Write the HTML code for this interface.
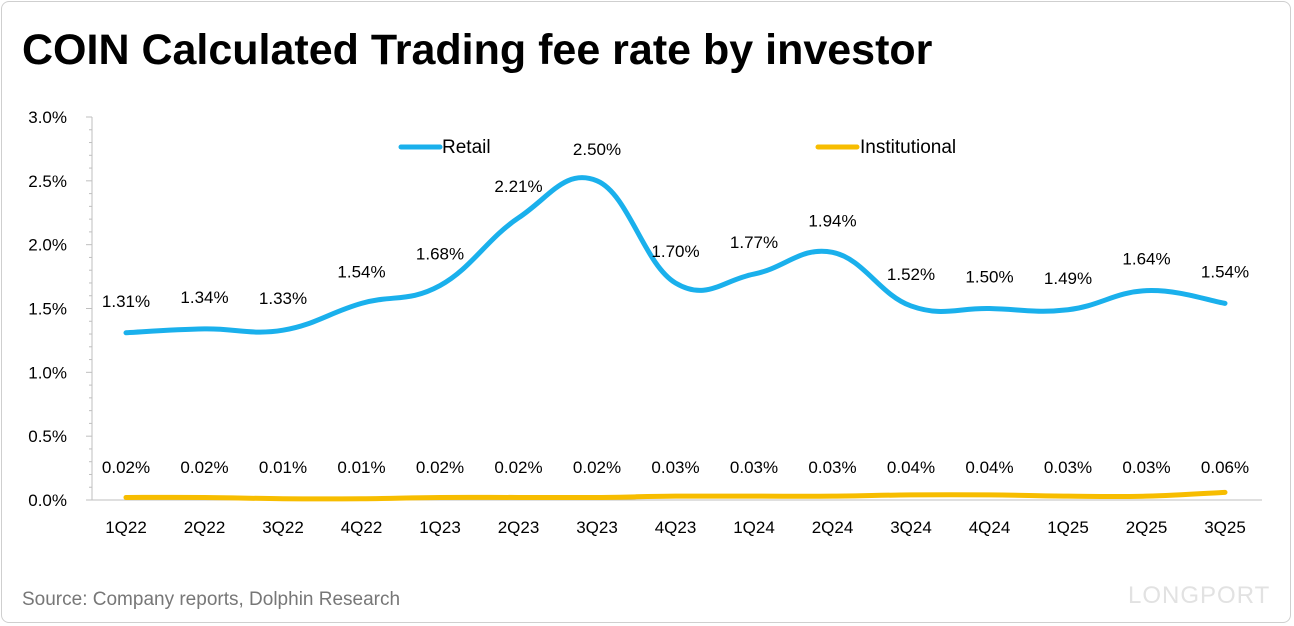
<!DOCTYPE html>
<html><head><meta charset="utf-8"><style>
html,body{margin:0;padding:0;background:#fff;}
body{width:1294px;height:626px;position:relative;overflow:hidden;font-family:"Liberation Sans",sans-serif;}
#frame{position:absolute;left:1px;top:1px;width:1290px;height:622px;border:1px solid #cfcfcf;border-radius:8px;box-sizing:border-box;}
#title{position:absolute;left:22px;top:26px;font-size:43px;font-weight:bold;color:#000;letter-spacing:0px;}
#source{position:absolute;left:22px;top:589px;font-size:19px;color:#777;}
#brand{position:absolute;left:1128px;top:582px;font-size:24px;color:#e2e2e2;letter-spacing:1px;}
</style></head><body>
<div id="frame"></div>
<div id="title">COIN Calculated Trading fee rate by investor</div>
<div id="source">Source: Company reports, Dolphin Research</div>
<div id="brand">LONGPORT</div>
<svg id="chart" width="1294" height="626" style="position:absolute;left:0;top:0"></svg>
<script>
const categories=["1Q22","2Q22","3Q22","4Q22","1Q23","2Q23","3Q23","4Q23","1Q24","2Q24","3Q24","4Q24","1Q25","2Q25","3Q25"];
const retail=[1.31,1.34,1.33,1.54,1.68,2.21,2.50,1.70,1.77,1.94,1.52,1.50,1.49,1.64,1.54];
const institutional=[0.02,0.02,0.01,0.01,0.02,0.02,0.02,0.03,0.03,0.03,0.04,0.04,0.03,0.03,0.06];
const yTicks=[0,0.5,1.0,1.5,2.0,2.5,3.0];
const NS="http://www.w3.org/2000/svg";
const svg=document.getElementById('chart');
const x0=126,dx=(1225-126)/14,yBase=500,yTop=117,yMax=3.0;
const xs=i=>x0+i*dx;
const ys=v=>yBase-(v/yMax)*(yBase-yTop);
function mk(t,a){const e=document.createElementNS(NS,t);for(const k in a)e.setAttribute(k,a[k]);svg.appendChild(e);return e;}
let ax=mk('line',{x1:92,y1:yTop,x2:92,y2:yBase,stroke:'#bfbfbf','stroke-width':1});

let bx=mk('line',{x1:92,y1:yBase,x2:1262,y2:yBase,stroke:'#bfbfbf','stroke-width':1});

yTicks.forEach(v=>{
  const y=ys(v);
  mk('line',{x1:86,y1:y,x2:92,y2:y,stroke:'#bfbfbf'});
  for(let k=1;k<5;k++){const yy=ys(v+k*0.1);if(v<3)mk('line',{x1:89,y1:yy,x2:92,y2:yy,stroke:'#bfbfbf'});}
  const t=mk('text',{x:67,y:y+6,'text-anchor':'end','font-size':17,fill:'#000'});
  t.textContent=v.toFixed(1)+'%';
  
});
categories.forEach((c,i)=>{
  const t=mk('text',{x:xs(i),y:533,'text-anchor':'middle','font-size':17,fill:'#000'});
  t.textContent=c;
  
});
function smooth(vals){
  const p=vals.map((v,i)=>[xs(i),ys(v)]);
  let d=`M${p[0][0]},${p[0][1]}`;
  for(let i=0;i<p.length-1;i++){
    const a=p[i-1]||p[i],b=p[i],c=p[i+1],e=p[i+2]||c;
    const t=0.2;
    d+=` C${b[0]+(c[0]-a[0])*t},${b[1]+(c[1]-a[1])*t} ${c[0]-(e[0]-b[0])*t},${c[1]-(e[1]-b[1])*t} ${c[0]},${c[1]}`;
  }
  return d;
}
let rl=mk('path',{d:smooth(retail),fill:'none',stroke:'#1ab0ec','stroke-width':5,'stroke-linecap':'round'});

let il=mk('path',{d:smooth(institutional),fill:'none',stroke:'#f7bd00','stroke-width':5,'stroke-linecap':'round'});

retail.forEach((v,i)=>{
  const t=mk('text',{x:xs(i),y:ys(v)-26,'text-anchor':'middle','font-size':17,fill:'#000'});
  t.textContent=v.toFixed(2)+'%';
  
});
institutional.forEach((v,i)=>{
  const t=mk('text',{x:xs(i),y:473,'text-anchor':'middle','font-size':17,fill:'#000'});
  t.textContent=v.toFixed(2)+'%';
  
});
let l1=mk('line',{x1:401,y1:147,x2:440,y2:147,stroke:'#1ab0ec','stroke-width':5,'stroke-linecap':'round'});

let t1=mk('text',{x:442,y:153,'font-size':19,fill:'#000'});t1.textContent='Retail';

let l2=mk('line',{x1:818,y1:147,x2:857,y2:147,stroke:'#f7bd00','stroke-width':5,'stroke-linecap':'round'});

let t2=mk('text',{x:860,y:153,'font-size':19,fill:'#000'});t2.textContent='Institutional';

</script>
</body></html>
